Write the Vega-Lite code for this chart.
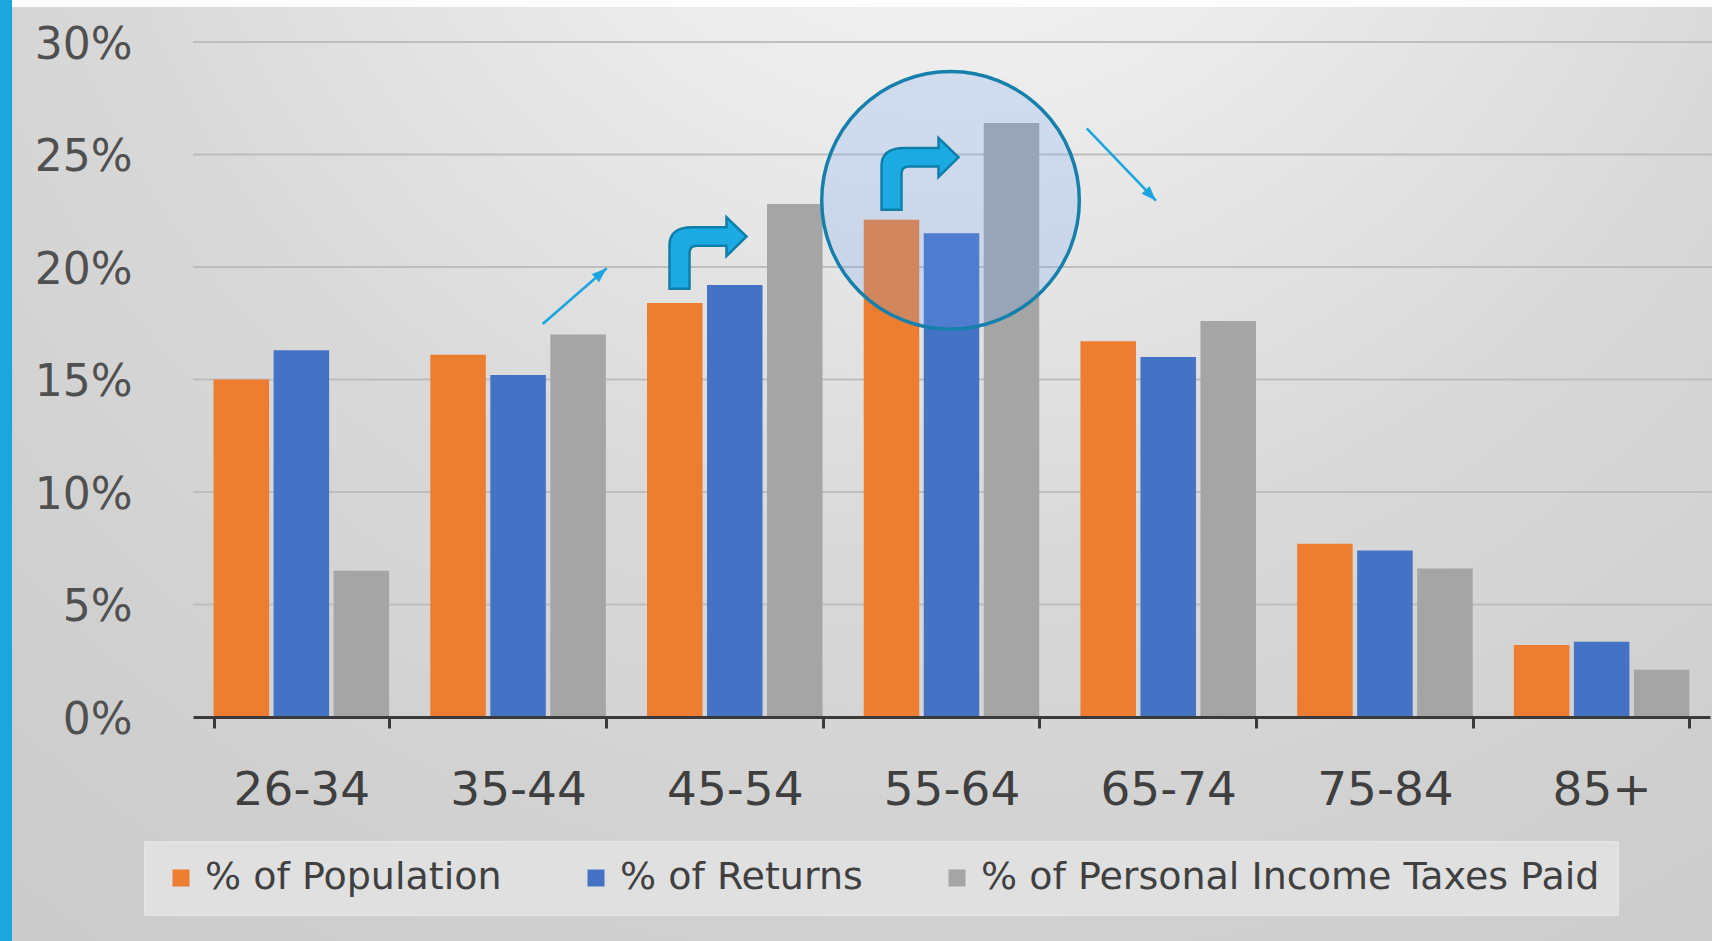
{
  "$schema": "https://vega.github.io/schema/vega-lite/v6.json",
  "width": 1517,
  "height": 675,
  "autosize": "none",
  "padding": {"left": 193, "top": 42, "right": 2, "bottom": 224},
  "background": "#d4d4d4",
  "config": {"view": {"stroke": null}, "font": "DejaVu Sans"},
  "datasets": {
    "bars": [
      {"age": "26-34", "series": "% of Population", "value": 0.150},
      {"age": "26-34", "series": "% of Returns", "value": 0.163},
      {"age": "26-34", "series": "% of Personal Income Taxes Paid", "value": 0.065},
      {"age": "35-44", "series": "% of Population", "value": 0.161},
      {"age": "35-44", "series": "% of Returns", "value": 0.152},
      {"age": "35-44", "series": "% of Personal Income Taxes Paid", "value": 0.170},
      {"age": "45-54", "series": "% of Population", "value": 0.184},
      {"age": "45-54", "series": "% of Returns", "value": 0.192},
      {"age": "45-54", "series": "% of Personal Income Taxes Paid", "value": 0.228},
      {"age": "55-64", "series": "% of Population", "value": 0.221},
      {"age": "55-64", "series": "% of Returns", "value": 0.215},
      {"age": "55-64", "series": "% of Personal Income Taxes Paid", "value": 0.264},
      {"age": "65-74", "series": "% of Population", "value": 0.167},
      {"age": "65-74", "series": "% of Returns", "value": 0.160},
      {"age": "65-74", "series": "% of Personal Income Taxes Paid", "value": 0.176},
      {"age": "75-84", "series": "% of Population", "value": 0.077},
      {"age": "75-84", "series": "% of Returns", "value": 0.074},
      {"age": "75-84", "series": "% of Personal Income Taxes Paid", "value": 0.066},
      {"age": "85+", "series": "% of Population", "value": 0.032},
      {"age": "85+", "series": "% of Returns", "value": 0.0335},
      {"age": "85+", "series": "% of Personal Income Taxes Paid", "value": 0.021}
    ],
    "grid": [
      {"value": 0.05}, {"value": 0.10}, {"value": 0.15},
      {"value": 0.20}, {"value": 0.25}, {"value": 0.30}
    ]
  },
  "encoding": {
    "y": {
      "field": "value", "type": "quantitative",
      "scale": {"domain": [0, 0.3], "nice": false},
      "axis": {
        "title": null, "values": [0, 0.05, 0.1, 0.15, 0.2, 0.25, 0.3], "format": ".0%",
        "labelFontSize": 44, "labelColor": "#505050", "labelFont": "DejaVu Sans",
        "labelPadding": 61, "labelOffset": 3, "ticks": false, "domain": false, "grid": false, "zindex": 2
      }
    }
  },
  "resolve": {"scale": {"x": "independent"}, "axis": {"x": "independent"}},
  "layer": [
    {
      "data": {"values": [{"px": -0.9, "px2": 7.02, "value": -0.11, "value2": 0.33}]},
      "mark": {
        "type": "rect",
        "fill": {
          "gradient": "radial",
          "x1": 0.55, "y1": 0.05, "r1": 0,
          "x2": 0.55, "y2": 0.05, "r2": 1,
          "stops": [
            {"offset": 0, "color": "#f8f8f8"},
            {"offset": 0.25, "color": "#ebebeb"},
            {"offset": 0.5, "color": "#d9d9d9"},
            {"offset": 0.75, "color": "#cfcfcf"},
            {"offset": 1, "color": "#c8c8c8"}
          ]
        }
      },
      "encoding": {
        "x": {"field": "px", "type": "quantitative", "scale": {"domain": [0, 7], "nice": false, "zero": false}, "axis": null},
        "x2": {"field": "px2"},
        "y2": {"field": "value2"}
      }
    },
    {
      "data": {"values": [{"px": -0.9, "px2": -0.835, "value": -0.11, "value2": 0.33}]},
      "mark": {"type": "rect", "fill": "#1ba6e0"},
      "encoding": {
        "x": {"field": "px", "type": "quantitative", "scale": {"domain": [0, 7], "nice": false, "zero": false}, "axis": null},
        "x2": {"field": "px2"},
        "y2": {"field": "value2"}
      }
    },
    {
      "data": {"values": [{"px": -0.835, "px2": 7.02, "value": 0.3156, "value2": 0.33}]},
      "mark": {"type": "rect", "fill": "#fdfdfd"},
      "encoding": {
        "x": {"field": "px", "type": "quantitative", "scale": {"domain": [0, 7], "nice": false, "zero": false}, "axis": null},
        "x2": {"field": "px2"},
        "y2": {"field": "value2"}
      }
    },
    {
      "data": {"name": "grid"},
      "mark": {"type": "rule", "stroke": "#bebebe", "strokeWidth": 2},
      "encoding": {
        "x": {"datum": 0, "type": "quantitative", "scale": {"domain": [0, 7], "nice": false, "zero": false}, "axis": null},
        "x2": {"datum": 7.02}
      }
    },
    {
      "data": {"name": "bars"},
      "mark": {"type": "bar", "strokeWidth": 0},
      "encoding": {
        "x": {
          "field": "age", "type": "nominal", "sort": null,
          "scale": {"paddingInner": 0.19, "paddingOuter": 0.095},
          "axis": {
            "title": null, "labelAngle": 0, "labelFontSize": 47, "labelColor": "#3f3f3f",
            "labelFont": "DejaVu Sans", "labelPadding": 39, "tickBand": "extent",
            "tickSize": 11, "tickWidth": 3, "tickColor": "#3a3a3a",
            "domainColor": "#3a3a3a", "domainWidth": 3, "grid": false, "zindex": 1
          }
        },
        "xOffset": {
          "field": "series", "type": "nominal",
          "sort": ["% of Population", "% of Returns", "% of Personal Income Taxes Paid"],
          "scale": {"paddingInner": 0.075}
        },
        "color": {
          "field": "series", "type": "nominal",
          "scale": {
            "domain": ["% of Population", "% of Returns", "% of Personal Income Taxes Paid"],
            "range": ["#ed7d31", "#4472c4", "#a5a5a5"]
          },
          "legend": {
            "orient": "none", "legendX": -49, "legendY": 799, "direction": "horizontal",
            "title": null, "labelFontSize": 38, "labelColor": "#404040", "labelFont": "DejaVu Sans",
            "symbolType": "square", "symbolSize": 289, "symbolStrokeWidth": 0, "symbolOpacity": 1,
            "labelOffset": 5, "columnPadding": 75, "padding": 18,
            "fillColor": "#e0e0e0", "strokeColor": "#e6e6e6", "labelLimit": 1000
          }
        }
      }
    },
    {
      "data": {"values": [{"px": 3.4955, "value": 0.2296}]},
      "mark": {"type": "point", "shape": "circle", "size": 66357, "filled": false, "fill": "#76a5f7", "fillOpacity": 0.23, "stroke": "#1680ac", "strokeWidth": 3.5, "opacity": 1},
      "encoding": {
        "x": {"field": "px", "type": "quantitative", "scale": {"domain": [0, 7], "nice": false, "zero": false}, "axis": null}
      }
    },
    {
      "data": {"values": [{"px": 2.3764, "value": 0.2062}, {"px": 3.3547, "value": 0.2414}]},
      "mark": {
        "type": "point",
        "shape": "M -1 0.93 L -1 -0.2 Q -1 -0.67 -0.4 -0.67 L 0.48 -0.67 L 0.48 -0.93 L 1 -0.43 L 0.48 0.08 L 0.48 -0.19 L -0.3 -0.19 Q -0.48 -0.19 -0.48 0 L -0.48 0.93 Z",
        "size": 5929, "filled": true, "fill": "#1babe2", "fillOpacity": 1, "stroke": "#0f7faa", "strokeWidth": 2.5, "opacity": 1
      },
      "encoding": {
        "x": {"field": "px", "type": "quantitative", "scale": {"domain": [0, 7], "nice": false, "zero": false}, "axis": null}
      }
    },
    {
      "data": {"values": [{"px": 1.6137, "value": 0.1747, "px2": 1.909, "value2": 0.1994}, {"px": 4.1239, "value": 0.2616, "px2": 4.4437, "value2": 0.2295}]},
      "mark": {"type": "rule", "stroke": "#1ba6e0", "strokeWidth": 2.6},
      "encoding": {
        "x": {"field": "px", "type": "quantitative", "scale": {"domain": [0, 7], "nice": false, "zero": false}, "axis": null},
        "x2": {"field": "px2"},
        "y2": {"field": "value2"}
      }
    },
    {
      "data": {"values": [{"px": 1.909, "value": 0.1994}]},
      "mark": {"type": "point", "shape": "M 0 0 L 0.55 1.5 L -0.55 1.5 Z", "size": 400, "angle": 49, "filled": true, "fill": "#1ba6e0", "fillOpacity": 1, "strokeWidth": 0, "opacity": 1},
      "encoding": {
        "x": {"field": "px", "type": "quantitative", "scale": {"domain": [0, 7], "nice": false, "zero": false}, "axis": null}
      }
    },
    {
      "data": {"values": [{"px": 4.4437, "value": 0.2295}]},
      "mark": {"type": "point", "shape": "M 0 0 L 0.55 1.5 L -0.55 1.5 Z", "size": 400, "angle": 136, "filled": true, "fill": "#1ba6e0", "fillOpacity": 1, "strokeWidth": 0, "opacity": 1},
      "encoding": {
        "x": {"field": "px", "type": "quantitative", "scale": {"domain": [0, 7], "nice": false, "zero": false}, "axis": null}
      }
    }
  ]
}
